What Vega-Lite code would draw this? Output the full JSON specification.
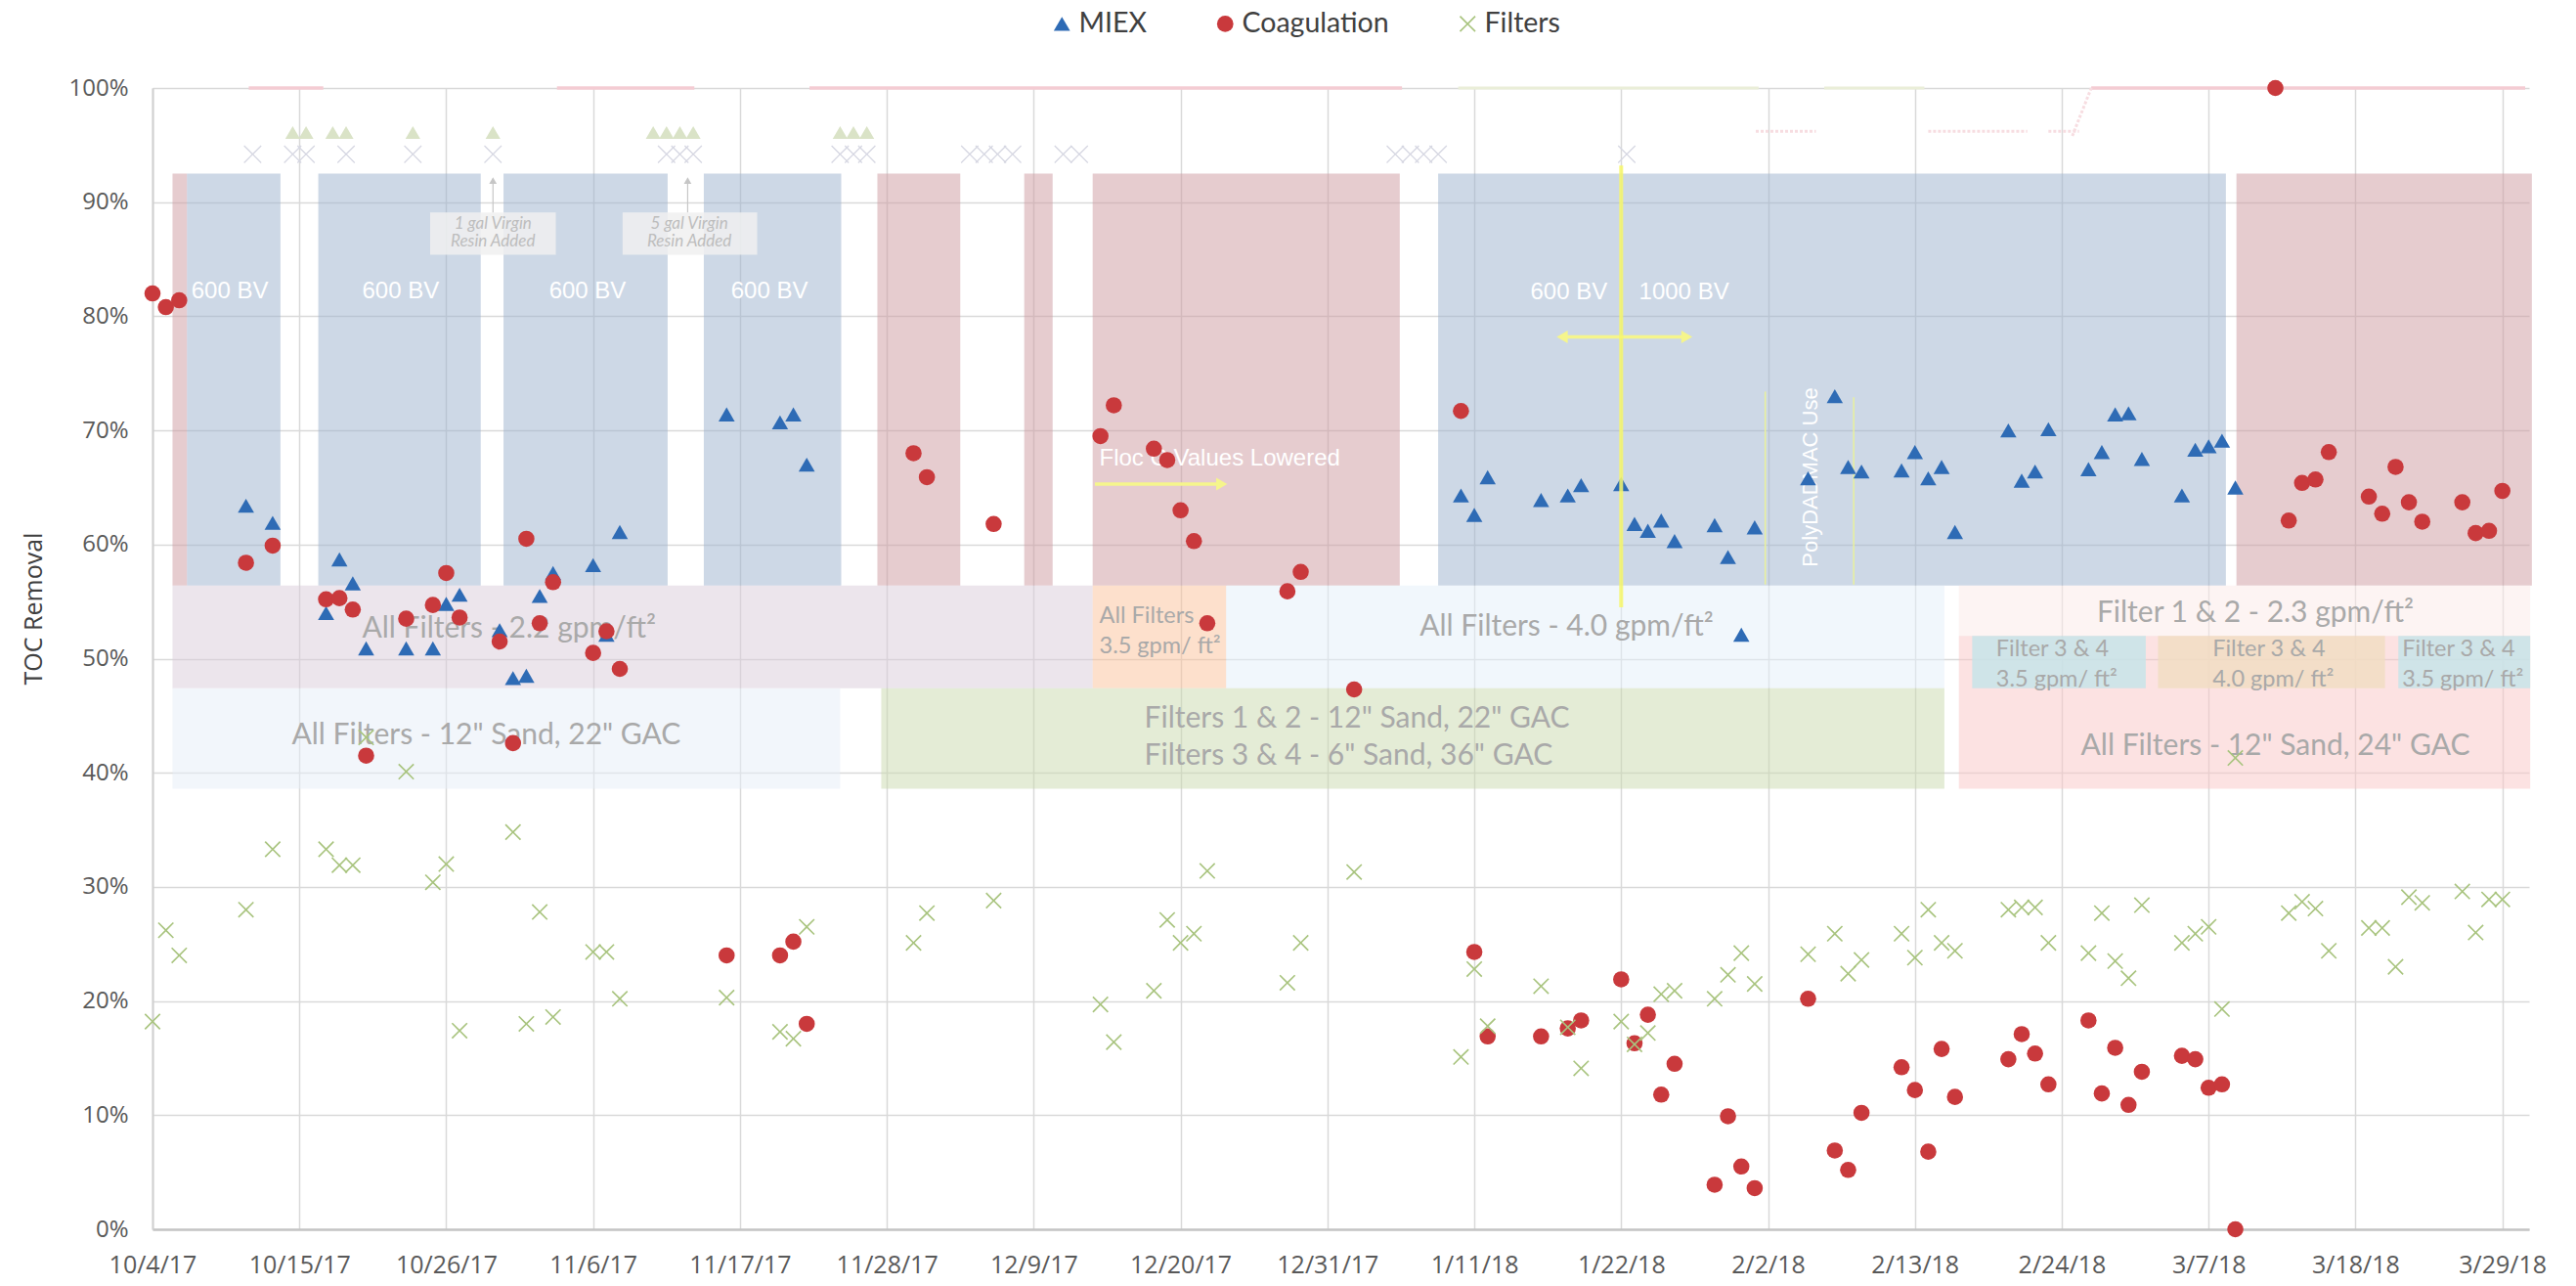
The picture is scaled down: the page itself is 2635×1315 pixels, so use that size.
{
"$schema": "https://vega.github.io/schema/vega-lite/v6.json",
"width": 2431, "height": 1167,
"autosize": {"type": "none"},
"padding": {"left": 156, "top": 90, "right": 48, "bottom": 58},
"background": "white",
"config": {
  "view": {"stroke": null},
  "font": "Lato",
  "legend": {"orient": "none", "legendX": 916, "legendY": -80, "direction": "horizontal", "labelFont": "Lato", "labelFontSize": 28.5, "labelColor": "#404040", "symbolSize": 280, "columnPadding": 66, "labelOffset": 3, "padding": 0, "symbolStrokeWidth": 0}
},
"datasets": {
  "bands": [
    {"d": "2017-10-05T12:00:00Z", "e": "2017-10-06T14:00:00Z", "v": 0.564, "w": 0.925, "k": "coag"},
    {"d": "2017-10-06T14:00:00Z", "e": "2017-10-13T14:00:00Z", "v": 0.564, "w": 0.925, "k": "miex"},
    {"d": "2017-10-16T10:00:00Z", "e": "2017-10-28T14:00:00Z", "v": 0.564, "w": 0.925, "k": "miex"},
    {"d": "2017-10-30T07:00:00Z", "e": "2017-11-11T14:00:00Z", "v": 0.564, "w": 0.925, "k": "miex"},
    {"d": "2017-11-14T07:00:00Z", "e": "2017-11-24T14:00:00Z", "v": 0.564, "w": 0.925, "k": "miex"},
    {"d": "2017-11-27T07:00:00Z", "e": "2017-12-03T12:00:00Z", "v": 0.564, "w": 0.925, "k": "coag"},
    {"d": "2017-12-08T07:00:00Z", "e": "2017-12-10T10:00:00Z", "v": 0.564, "w": 0.925, "k": "coag"},
    {"d": "2017-12-13T10:00:00Z", "e": "2018-01-05T10:00:00Z", "v": 0.564, "w": 0.925, "k": "coag"},
    {"d": "2018-01-08T07:00:00Z", "e": "2018-03-08T07:00:00Z", "v": 0.564, "w": 0.925, "k": "miex"},
    {"d": "2018-03-09T02:00:00Z", "e": "2018-03-31T05:00:00Z", "v": 0.564, "w": 0.925, "k": "coag"},
    {"d": "2017-10-05T12:00:00Z", "e": "2017-12-13T10:00:00Z", "v": 0.474, "w": 0.564, "k": "r22"},
    {"d": "2017-12-13T10:00:00Z", "e": "2017-12-23T10:00:00Z", "v": 0.474, "w": 0.564, "k": "r35"},
    {"d": "2017-12-23T10:00:00Z", "e": "2018-02-15T05:00:00Z", "v": 0.474, "w": 0.564, "k": "r40"},
    {"d": "2018-02-16T07:00:00Z", "e": "2018-03-31T02:00:00Z", "v": 0.520, "w": 0.564, "k": "r23"},
    {"d": "2017-10-05T12:00:00Z", "e": "2017-11-24T12:00:00Z", "v": 0.386, "w": 0.474, "k": "m1222"},
    {"d": "2017-11-27T14:00:00Z", "e": "2018-02-15T05:00:00Z", "v": 0.386, "w": 0.474, "k": "msplit"},
    {"d": "2018-02-16T07:00:00Z", "e": "2018-03-31T02:00:00Z", "v": 0.386, "w": 0.520, "k": "m1224"}
  ],
  "subbands": [
    {"d": "2018-02-17T07:00:00Z", "e": "2018-03-02T07:00:00Z", "v": 0.474, "w": 0.520, "k": "f35"},
    {"d": "2018-03-03T05:00:00Z", "e": "2018-03-20T05:00:00Z", "v": 0.474, "w": 0.520, "k": "f40"},
    {"d": "2018-03-21T05:00:00Z", "e": "2018-03-31T02:00:00Z", "v": 0.474, "w": 0.520, "k": "f35"}
  ],
  "boxes": [
    {"d": "2017-10-24T19:00:00Z", "e": "2017-11-03T05:00:00Z", "v": 0.854, "w": 0.891},
    {"d": "2017-11-08T05:00:00Z", "e": "2017-11-18T07:00:00Z", "v": 0.854, "w": 0.891}
  ],
  "ghostPink": [
    {"d": "2017-10-11T05:00:00Z", "e": "2017-10-16T19:00:00Z", "v": 1.0, "w": 1.0},
    {"d": "2017-11-03T07:00:00Z", "e": "2017-11-13T14:00:00Z", "v": 1.0, "w": 1.0},
    {"d": "2017-11-22T05:00:00Z", "e": "2018-01-05T14:00:00Z", "v": 1.0, "w": 1.0},
    {"d": "2018-02-26T05:00:00Z", "e": "2018-03-30T17:00:00Z", "v": 1.0, "w": 1.0}
  ],
  "ghostPinkLow": [
    {"d": "2018-02-01T02:00:00Z", "e": "2018-02-05T14:00:00Z", "v": 0.962, "w": 0.962},
    {"d": "2018-02-14T00:00:00Z", "e": "2018-02-21T10:00:00Z", "v": 0.962, "w": 0.962},
    {"d": "2018-02-23T00:00:00Z", "e": "2018-02-25T07:00:00Z", "v": 0.962, "w": 0.962},
    {"d": "2018-02-24T19:00:00Z", "e": "2018-02-26T05:00:00Z", "v": 0.958, "w": 1.0}
  ],
  "ghostOlive": [
    {"d": "2018-01-09T19:00:00Z", "e": "2018-02-01T07:00:00Z", "v": 1.0, "w": 1.0},
    {"d": "2018-02-06T05:00:00Z", "e": "2018-02-13T17:00:00Z", "v": 1.0, "w": 1.0}
  ],
  "ghostTri": [
    {"d": "2017-10-14T12:00:00Z", "v": 0.961}, {"d": "2017-10-15T12:00:00Z", "v": 0.961},
    {"d": "2017-10-17T12:00:00Z", "v": 0.961}, {"d": "2017-10-18T12:00:00Z", "v": 0.961},
    {"d": "2017-10-23T12:00:00Z", "v": 0.961}, {"d": "2017-10-29T12:00:00Z", "v": 0.961},
    {"d": "2017-11-10T12:00:00Z", "v": 0.961}, {"d": "2017-11-11T12:00:00Z", "v": 0.961},
    {"d": "2017-11-12T12:00:00Z", "v": 0.961}, {"d": "2017-11-13T12:00:00Z", "v": 0.961},
    {"d": "2017-11-24T12:00:00Z", "v": 0.961}, {"d": "2017-11-25T12:00:00Z", "v": 0.961},
    {"d": "2017-11-26T12:00:00Z", "v": 0.961}
  ],
  "ghostX": [
    {"d": "2017-10-11T12:00:00Z", "v": 0.942}, {"d": "2017-10-14T12:00:00Z", "v": 0.942},
    {"d": "2017-10-15T12:00:00Z", "v": 0.942}, {"d": "2017-10-18T12:00:00Z", "v": 0.942},
    {"d": "2017-10-23T12:00:00Z", "v": 0.942}, {"d": "2017-10-29T12:00:00Z", "v": 0.942},
    {"d": "2017-11-11T12:00:00Z", "v": 0.942}, {"d": "2017-11-12T12:00:00Z", "v": 0.942},
    {"d": "2017-11-13T12:00:00Z", "v": 0.942}, {"d": "2017-11-24T12:00:00Z", "v": 0.942},
    {"d": "2017-11-25T12:00:00Z", "v": 0.942}, {"d": "2017-11-26T12:00:00Z", "v": 0.942},
    {"d": "2017-12-04T05:00:00Z", "v": 0.942}, {"d": "2017-12-05T07:00:00Z", "v": 0.942},
    {"d": "2017-12-06T07:00:00Z", "v": 0.942}, {"d": "2017-12-07T10:00:00Z", "v": 0.942},
    {"d": "2017-12-11T05:00:00Z", "v": 0.942}, {"d": "2017-12-12T10:00:00Z", "v": 0.942},
    {"d": "2018-01-05T02:00:00Z", "v": 0.942}, {"d": "2018-01-06T05:00:00Z", "v": 0.942},
    {"d": "2018-01-07T05:00:00Z", "v": 0.942}, {"d": "2018-01-08T07:00:00Z", "v": 0.942},
    {"d": "2018-01-22T10:00:00Z", "v": 0.942}
  ],
  "bandText": [
    {"d": "2017-10-30T17:00:00Z", "v": 0.526, "t": "All Filters - 2.2 gpm/ft²"},
    {"d": "2017-10-29T00:00:00Z", "v": 0.433, "t": "All Filters -  12\" Sand, 22\" GAC"},
    {"d": "2018-01-17T22:00:00Z", "v": 0.528, "t": "All Filters - 4.0 gpm/ft²"},
    {"d": "2018-03-12T00:00:00Z", "v": 0.423, "t": "All Filters - 12\" Sand, 24\" GAC"},
    {"d": "2018-03-10T12:00:00Z", "v": 0.540, "t": "Filter 1 & 2 - 2.3 gpm/ft²"}
  ],
  "bandText2": [
    {"d": "2017-12-17T07:00:00Z", "v": 0.447, "t": "Filters 1 & 2 - 12\" Sand, 22\" GAC\nFilters 3 & 4 - 6\" Sand, 36\" GAC"}
  ],
  "smallText": [
    {"d": "2017-12-13T22:00:00Z", "v": 0.537, "t": "All Filters\n3.5 gpm/ ft²"},
    {"d": "2018-02-19T02:00:00Z", "v": 0.508, "t": "Filter 3 & 4\n3.5 gpm/ ft²"},
    {"d": "2018-03-07T07:00:00Z", "v": 0.508, "t": "Filter 3 & 4\n4.0 gpm/ ft²"},
    {"d": "2018-03-21T12:00:00Z", "v": 0.508, "t": "Filter 3 & 4\n3.5 gpm/ ft²"}
  ],
  "bvText": [
    {"d": "2017-10-09T19:00:00Z", "v": 0.822, "t": "600 BV"},
    {"d": "2017-10-22T14:00:00Z", "v": 0.822, "t": "600 BV"},
    {"d": "2017-11-05T14:00:00Z", "v": 0.822, "t": "600 BV"},
    {"d": "2017-11-19T05:00:00Z", "v": 0.822, "t": "600 BV"},
    {"d": "2018-01-18T02:00:00Z", "v": 0.821, "t": "600 BV"},
    {"d": "2018-01-26T17:00:00Z", "v": 0.821, "t": "1000 BV"}
  ],
  "flocText": [
    {"d": "2017-12-13T22:00:00Z", "v": 0.675, "t": "Floc C Values Lowered"}
  ],
  "polyText": [
    {"d": "2018-02-05T05:00:00Z", "v": 0.659, "t": "PolyDADMAC Use"}
  ],
  "noteText": [
    {"d": "2017-10-29T12:00:00Z", "v": 0.881, "t": "1 gal Virgin\nResin Added"},
    {"d": "2017-11-13T05:00:00Z", "v": 0.881, "t": "5 gal Virgin\nResin Added"}
  ],
  "yellowMain": [
    {"d": "2018-01-22T00:00:00Z", "v": 0.545, "w": 0.932}
  ],
  "yellowThin": [
    {"d": "2018-02-01T19:00:00Z", "v": 0.565, "w": 0.734},
    {"d": "2018-02-08T10:00:00Z", "v": 0.565, "w": 0.729}
  ],
  "yellowShaft": [
    {"d": "2018-01-17T14:00:00Z", "e": "2018-01-26T22:00:00Z", "v": 0.782},
    {"d": "2017-12-13T14:00:00Z", "e": "2017-12-23T00:00:00Z", "v": 0.653}
  ],
  "yellowLeft": [
    {"d": "2018-01-17T14:00:00Z", "v": 0.782}
  ],
  "yellowRight": [
    {"d": "2018-01-26T22:00:00Z", "v": 0.782},
    {"d": "2017-12-23T02:00:00Z", "v": 0.653}
  ],
  "grayShaft": [
    {"d": "2017-10-29T12:00:00Z", "v": 0.891, "w": 0.917},
    {"d": "2017-11-13T02:00:00Z", "v": 0.891, "w": 0.917}
  ],
  "grayHead": [
    {"d": "2017-10-29T12:00:00Z", "v": 0.919},
    {"d": "2017-11-13T02:00:00Z", "v": 0.919}
  ],
  "pts": [
    {"d": "2017-10-11", "v": 0.634, "s": "MIEX"},
    {"d": "2017-10-13", "v": 0.619, "s": "MIEX"},
    {"d": "2017-10-17", "v": 0.540, "s": "MIEX"},
    {"d": "2017-10-18", "v": 0.587, "s": "MIEX"},
    {"d": "2017-10-19", "v": 0.566, "s": "MIEX"},
    {"d": "2017-10-20", "v": 0.509, "s": "MIEX"},
    {"d": "2017-10-23", "v": 0.509, "s": "MIEX"},
    {"d": "2017-10-25", "v": 0.509, "s": "MIEX"},
    {"d": "2017-10-26", "v": 0.548, "s": "MIEX"},
    {"d": "2017-10-27", "v": 0.556, "s": "MIEX"},
    {"d": "2017-10-30", "v": 0.525, "s": "MIEX"},
    {"d": "2017-10-31", "v": 0.483, "s": "MIEX"},
    {"d": "2017-11-01", "v": 0.485, "s": "MIEX"},
    {"d": "2017-11-02", "v": 0.555, "s": "MIEX"},
    {"d": "2017-11-03", "v": 0.575, "s": "MIEX"},
    {"d": "2017-11-06", "v": 0.582, "s": "MIEX"},
    {"d": "2017-11-07", "v": 0.521, "s": "MIEX"},
    {"d": "2017-11-08", "v": 0.611, "s": "MIEX"},
    {"d": "2017-11-16", "v": 0.714, "s": "MIEX"},
    {"d": "2017-11-20", "v": 0.707, "s": "MIEX"},
    {"d": "2017-11-21", "v": 0.714, "s": "MIEX"},
    {"d": "2017-11-22", "v": 0.670, "s": "MIEX"},
    {"d": "2018-01-10", "v": 0.643, "s": "MIEX"},
    {"d": "2018-01-11", "v": 0.626, "s": "MIEX"},
    {"d": "2018-01-12", "v": 0.659, "s": "MIEX"},
    {"d": "2018-01-16", "v": 0.639, "s": "MIEX"},
    {"d": "2018-01-18", "v": 0.643, "s": "MIEX"},
    {"d": "2018-01-19", "v": 0.652, "s": "MIEX"},
    {"d": "2018-01-22", "v": 0.653, "s": "MIEX"},
    {"d": "2018-01-23", "v": 0.618, "s": "MIEX"},
    {"d": "2018-01-24", "v": 0.612, "s": "MIEX"},
    {"d": "2018-01-25", "v": 0.621, "s": "MIEX"},
    {"d": "2018-01-26", "v": 0.603, "s": "MIEX"},
    {"d": "2018-01-29", "v": 0.617, "s": "MIEX"},
    {"d": "2018-01-30", "v": 0.589, "s": "MIEX"},
    {"d": "2018-01-31", "v": 0.521, "s": "MIEX"},
    {"d": "2018-02-01", "v": 0.615, "s": "MIEX"},
    {"d": "2018-02-05", "v": 0.658, "s": "MIEX"},
    {"d": "2018-02-07", "v": 0.730, "s": "MIEX"},
    {"d": "2018-02-08", "v": 0.668, "s": "MIEX"},
    {"d": "2018-02-09", "v": 0.664, "s": "MIEX"},
    {"d": "2018-02-12", "v": 0.665, "s": "MIEX"},
    {"d": "2018-02-13", "v": 0.681, "s": "MIEX"},
    {"d": "2018-02-14", "v": 0.658, "s": "MIEX"},
    {"d": "2018-02-15", "v": 0.668, "s": "MIEX"},
    {"d": "2018-02-16", "v": 0.611, "s": "MIEX"},
    {"d": "2018-02-20", "v": 0.700, "s": "MIEX"},
    {"d": "2018-02-21", "v": 0.656, "s": "MIEX"},
    {"d": "2018-02-22", "v": 0.664, "s": "MIEX"},
    {"d": "2018-02-23", "v": 0.701, "s": "MIEX"},
    {"d": "2018-02-26", "v": 0.666, "s": "MIEX"},
    {"d": "2018-02-27", "v": 0.681, "s": "MIEX"},
    {"d": "2018-02-28", "v": 0.714, "s": "MIEX"},
    {"d": "2018-03-01", "v": 0.715, "s": "MIEX"},
    {"d": "2018-03-02", "v": 0.675, "s": "MIEX"},
    {"d": "2018-03-05", "v": 0.643, "s": "MIEX"},
    {"d": "2018-03-06", "v": 0.683, "s": "MIEX"},
    {"d": "2018-03-07", "v": 0.686, "s": "MIEX"},
    {"d": "2018-03-08", "v": 0.691, "s": "MIEX"},
    {"d": "2018-03-09", "v": 0.650, "s": "MIEX"},
    {"d": "2017-10-04", "v": 0.820, "s": "Coagulation"},
    {"d": "2017-10-05", "v": 0.808, "s": "Coagulation"},
    {"d": "2017-10-06", "v": 0.814, "s": "Coagulation"},
    {"d": "2017-10-11", "v": 0.584, "s": "Coagulation"},
    {"d": "2017-10-13", "v": 0.599, "s": "Coagulation"},
    {"d": "2017-10-17", "v": 0.552, "s": "Coagulation"},
    {"d": "2017-10-18", "v": 0.553, "s": "Coagulation"},
    {"d": "2017-10-19", "v": 0.543, "s": "Coagulation"},
    {"d": "2017-10-20", "v": 0.415, "s": "Coagulation"},
    {"d": "2017-10-23", "v": 0.535, "s": "Coagulation"},
    {"d": "2017-10-25", "v": 0.547, "s": "Coagulation"},
    {"d": "2017-10-26", "v": 0.575, "s": "Coagulation"},
    {"d": "2017-10-27", "v": 0.536, "s": "Coagulation"},
    {"d": "2017-10-30", "v": 0.515, "s": "Coagulation"},
    {"d": "2017-10-31", "v": 0.426, "s": "Coagulation"},
    {"d": "2017-11-01", "v": 0.605, "s": "Coagulation"},
    {"d": "2017-11-02", "v": 0.531, "s": "Coagulation"},
    {"d": "2017-11-03", "v": 0.567, "s": "Coagulation"},
    {"d": "2017-11-06", "v": 0.505, "s": "Coagulation"},
    {"d": "2017-11-07", "v": 0.524, "s": "Coagulation"},
    {"d": "2017-11-08", "v": 0.491, "s": "Coagulation"},
    {"d": "2017-11-16", "v": 0.240, "s": "Coagulation"},
    {"d": "2017-11-20", "v": 0.240, "s": "Coagulation"},
    {"d": "2017-11-21", "v": 0.252, "s": "Coagulation"},
    {"d": "2017-11-22", "v": 0.180, "s": "Coagulation"},
    {"d": "2017-11-30", "v": 0.680, "s": "Coagulation"},
    {"d": "2017-12-01", "v": 0.659, "s": "Coagulation"},
    {"d": "2017-12-06", "v": 0.618, "s": "Coagulation"},
    {"d": "2017-12-14", "v": 0.695, "s": "Coagulation"},
    {"d": "2017-12-15", "v": 0.722, "s": "Coagulation"},
    {"d": "2017-12-18", "v": 0.684, "s": "Coagulation"},
    {"d": "2017-12-19", "v": 0.674, "s": "Coagulation"},
    {"d": "2017-12-20", "v": 0.630, "s": "Coagulation"},
    {"d": "2017-12-21", "v": 0.603, "s": "Coagulation"},
    {"d": "2017-12-22", "v": 0.531, "s": "Coagulation"},
    {"d": "2017-12-28", "v": 0.559, "s": "Coagulation"},
    {"d": "2017-12-29", "v": 0.576, "s": "Coagulation"},
    {"d": "2018-01-02", "v": 0.473, "s": "Coagulation"},
    {"d": "2018-01-10", "v": 0.717, "s": "Coagulation"},
    {"d": "2018-01-11", "v": 0.243, "s": "Coagulation"},
    {"d": "2018-01-12", "v": 0.169, "s": "Coagulation"},
    {"d": "2018-01-16", "v": 0.169, "s": "Coagulation"},
    {"d": "2018-01-18", "v": 0.176, "s": "Coagulation"},
    {"d": "2018-01-19", "v": 0.183, "s": "Coagulation"},
    {"d": "2018-01-22", "v": 0.219, "s": "Coagulation"},
    {"d": "2018-01-23", "v": 0.163, "s": "Coagulation"},
    {"d": "2018-01-24", "v": 0.188, "s": "Coagulation"},
    {"d": "2018-01-25", "v": 0.118, "s": "Coagulation"},
    {"d": "2018-01-26", "v": 0.145, "s": "Coagulation"},
    {"d": "2018-01-29", "v": 0.039, "s": "Coagulation"},
    {"d": "2018-01-30", "v": 0.099, "s": "Coagulation"},
    {"d": "2018-01-31", "v": 0.055, "s": "Coagulation"},
    {"d": "2018-02-01", "v": 0.036, "s": "Coagulation"},
    {"d": "2018-02-05", "v": 0.202, "s": "Coagulation"},
    {"d": "2018-02-07", "v": 0.069, "s": "Coagulation"},
    {"d": "2018-02-08", "v": 0.052, "s": "Coagulation"},
    {"d": "2018-02-09", "v": 0.102, "s": "Coagulation"},
    {"d": "2018-02-12", "v": 0.142, "s": "Coagulation"},
    {"d": "2018-02-13", "v": 0.122, "s": "Coagulation"},
    {"d": "2018-02-14", "v": 0.068, "s": "Coagulation"},
    {"d": "2018-02-15", "v": 0.158, "s": "Coagulation"},
    {"d": "2018-02-16", "v": 0.116, "s": "Coagulation"},
    {"d": "2018-02-20", "v": 0.149, "s": "Coagulation"},
    {"d": "2018-02-21", "v": 0.171, "s": "Coagulation"},
    {"d": "2018-02-22", "v": 0.154, "s": "Coagulation"},
    {"d": "2018-02-23", "v": 0.127, "s": "Coagulation"},
    {"d": "2018-02-26", "v": 0.183, "s": "Coagulation"},
    {"d": "2018-02-27", "v": 0.119, "s": "Coagulation"},
    {"d": "2018-02-28", "v": 0.159, "s": "Coagulation"},
    {"d": "2018-03-01", "v": 0.109, "s": "Coagulation"},
    {"d": "2018-03-02", "v": 0.138, "s": "Coagulation"},
    {"d": "2018-03-05", "v": 0.152, "s": "Coagulation"},
    {"d": "2018-03-06", "v": 0.149, "s": "Coagulation"},
    {"d": "2018-03-07", "v": 0.124, "s": "Coagulation"},
    {"d": "2018-03-08", "v": 0.127, "s": "Coagulation"},
    {"d": "2018-03-09", "v": 0.000, "s": "Coagulation"},
    {"d": "2018-03-12", "v": 1.000, "s": "Coagulation"},
    {"d": "2018-03-13", "v": 0.621, "s": "Coagulation"},
    {"d": "2018-03-14", "v": 0.654, "s": "Coagulation"},
    {"d": "2018-03-15", "v": 0.657, "s": "Coagulation"},
    {"d": "2018-03-16", "v": 0.681, "s": "Coagulation"},
    {"d": "2018-03-19", "v": 0.642, "s": "Coagulation"},
    {"d": "2018-03-20", "v": 0.627, "s": "Coagulation"},
    {"d": "2018-03-21", "v": 0.668, "s": "Coagulation"},
    {"d": "2018-03-22", "v": 0.637, "s": "Coagulation"},
    {"d": "2018-03-23", "v": 0.620, "s": "Coagulation"},
    {"d": "2018-03-26", "v": 0.637, "s": "Coagulation"},
    {"d": "2018-03-27", "v": 0.610, "s": "Coagulation"},
    {"d": "2018-03-28", "v": 0.612, "s": "Coagulation"},
    {"d": "2018-03-29", "v": 0.647, "s": "Coagulation"},
    {"d": "2017-10-04", "v": 0.182, "s": "Filters"},
    {"d": "2017-10-05", "v": 0.262, "s": "Filters"},
    {"d": "2017-10-06", "v": 0.240, "s": "Filters"},
    {"d": "2017-10-11", "v": 0.280, "s": "Filters"},
    {"d": "2017-10-13", "v": 0.333, "s": "Filters"},
    {"d": "2017-10-17", "v": 0.333, "s": "Filters"},
    {"d": "2017-10-18", "v": 0.319, "s": "Filters"},
    {"d": "2017-10-19", "v": 0.319, "s": "Filters"},
    {"d": "2017-10-20", "v": 0.431, "s": "Filters"},
    {"d": "2017-10-23", "v": 0.401, "s": "Filters"},
    {"d": "2017-10-25", "v": 0.304, "s": "Filters"},
    {"d": "2017-10-26", "v": 0.320, "s": "Filters"},
    {"d": "2017-10-27", "v": 0.174, "s": "Filters"},
    {"d": "2017-10-31", "v": 0.348, "s": "Filters"},
    {"d": "2017-11-01", "v": 0.180, "s": "Filters"},
    {"d": "2017-11-02", "v": 0.278, "s": "Filters"},
    {"d": "2017-11-03", "v": 0.186, "s": "Filters"},
    {"d": "2017-11-06", "v": 0.243, "s": "Filters"},
    {"d": "2017-11-07", "v": 0.243, "s": "Filters"},
    {"d": "2017-11-08", "v": 0.202, "s": "Filters"},
    {"d": "2017-11-16", "v": 0.203, "s": "Filters"},
    {"d": "2017-11-20", "v": 0.173, "s": "Filters"},
    {"d": "2017-11-21", "v": 0.167, "s": "Filters"},
    {"d": "2017-11-22", "v": 0.265, "s": "Filters"},
    {"d": "2017-11-30", "v": 0.251, "s": "Filters"},
    {"d": "2017-12-01", "v": 0.277, "s": "Filters"},
    {"d": "2017-12-06", "v": 0.288, "s": "Filters"},
    {"d": "2017-12-14", "v": 0.197, "s": "Filters"},
    {"d": "2017-12-15", "v": 0.164, "s": "Filters"},
    {"d": "2017-12-18", "v": 0.209, "s": "Filters"},
    {"d": "2017-12-19", "v": 0.271, "s": "Filters"},
    {"d": "2017-12-20", "v": 0.251, "s": "Filters"},
    {"d": "2017-12-21", "v": 0.259, "s": "Filters"},
    {"d": "2017-12-22", "v": 0.314, "s": "Filters"},
    {"d": "2017-12-28", "v": 0.216, "s": "Filters"},
    {"d": "2017-12-29", "v": 0.251, "s": "Filters"},
    {"d": "2018-01-02", "v": 0.313, "s": "Filters"},
    {"d": "2018-01-10", "v": 0.151, "s": "Filters"},
    {"d": "2018-01-11", "v": 0.228, "s": "Filters"},
    {"d": "2018-01-12", "v": 0.178, "s": "Filters"},
    {"d": "2018-01-16", "v": 0.213, "s": "Filters"},
    {"d": "2018-01-18", "v": 0.177, "s": "Filters"},
    {"d": "2018-01-19", "v": 0.141, "s": "Filters"},
    {"d": "2018-01-22", "v": 0.182, "s": "Filters"},
    {"d": "2018-01-23", "v": 0.162, "s": "Filters"},
    {"d": "2018-01-24", "v": 0.172, "s": "Filters"},
    {"d": "2018-01-25", "v": 0.206, "s": "Filters"},
    {"d": "2018-01-26", "v": 0.209, "s": "Filters"},
    {"d": "2018-01-29", "v": 0.202, "s": "Filters"},
    {"d": "2018-01-30", "v": 0.223, "s": "Filters"},
    {"d": "2018-01-31", "v": 0.242, "s": "Filters"},
    {"d": "2018-02-01", "v": 0.215, "s": "Filters"},
    {"d": "2018-02-05", "v": 0.241, "s": "Filters"},
    {"d": "2018-02-07", "v": 0.259, "s": "Filters"},
    {"d": "2018-02-08", "v": 0.224, "s": "Filters"},
    {"d": "2018-02-09", "v": 0.236, "s": "Filters"},
    {"d": "2018-02-12", "v": 0.259, "s": "Filters"},
    {"d": "2018-02-13", "v": 0.238, "s": "Filters"},
    {"d": "2018-02-14", "v": 0.280, "s": "Filters"},
    {"d": "2018-02-15", "v": 0.251, "s": "Filters"},
    {"d": "2018-02-16", "v": 0.244, "s": "Filters"},
    {"d": "2018-02-20", "v": 0.280, "s": "Filters"},
    {"d": "2018-02-21", "v": 0.282, "s": "Filters"},
    {"d": "2018-02-22", "v": 0.282, "s": "Filters"},
    {"d": "2018-02-23", "v": 0.251, "s": "Filters"},
    {"d": "2018-02-26", "v": 0.242, "s": "Filters"},
    {"d": "2018-02-27", "v": 0.277, "s": "Filters"},
    {"d": "2018-02-28", "v": 0.235, "s": "Filters"},
    {"d": "2018-03-01", "v": 0.220, "s": "Filters"},
    {"d": "2018-03-02", "v": 0.284, "s": "Filters"},
    {"d": "2018-03-05", "v": 0.251, "s": "Filters"},
    {"d": "2018-03-06", "v": 0.259, "s": "Filters"},
    {"d": "2018-03-07", "v": 0.265, "s": "Filters"},
    {"d": "2018-03-08", "v": 0.193, "s": "Filters"},
    {"d": "2018-03-09", "v": 0.413, "s": "Filters"},
    {"d": "2018-03-13", "v": 0.277, "s": "Filters"},
    {"d": "2018-03-14", "v": 0.287, "s": "Filters"},
    {"d": "2018-03-15", "v": 0.281, "s": "Filters"},
    {"d": "2018-03-16", "v": 0.244, "s": "Filters"},
    {"d": "2018-03-19", "v": 0.264, "s": "Filters"},
    {"d": "2018-03-20", "v": 0.264, "s": "Filters"},
    {"d": "2018-03-21", "v": 0.230, "s": "Filters"},
    {"d": "2018-03-22", "v": 0.291, "s": "Filters"},
    {"d": "2018-03-23", "v": 0.286, "s": "Filters"},
    {"d": "2018-03-26", "v": 0.296, "s": "Filters"},
    {"d": "2018-03-27", "v": 0.260, "s": "Filters"},
    {"d": "2018-03-28", "v": 0.289, "s": "Filters"},
    {"d": "2018-03-29", "v": 0.289, "s": "Filters"}
  ]
},
"encoding": {
  "x": {"field": "d", "type": "temporal",
    "scale": {"type": "utc", "domain": [{"year": 2017, "month": 10, "date": 4, "utc": true}, {"year": 2018, "month": 3, "date": 31, "utc": true}], "nice": false},
    "axis": {
      "values": [
        {"year": 2017, "month": 10, "date": 4, "utc": true},
        {"year": 2017, "month": 10, "date": 15, "utc": true},
        {"year": 2017, "month": 10, "date": 26, "utc": true},
        {"year": 2017, "month": 11, "date": 6, "utc": true},
        {"year": 2017, "month": 11, "date": 17, "utc": true},
        {"year": 2017, "month": 11, "date": 28, "utc": true},
        {"year": 2017, "month": 12, "date": 9, "utc": true},
        {"year": 2017, "month": 12, "date": 20, "utc": true},
        {"year": 2017, "month": 12, "date": 31, "utc": true},
        {"year": 2018, "month": 1, "date": 11, "utc": true},
        {"year": 2018, "month": 1, "date": 22, "utc": true},
        {"year": 2018, "month": 2, "date": 2, "utc": true},
        {"year": 2018, "month": 2, "date": 13, "utc": true},
        {"year": 2018, "month": 2, "date": 24, "utc": true},
        {"year": 2018, "month": 3, "date": 7, "utc": true},
        {"year": 2018, "month": 3, "date": 18, "utc": true},
        {"year": 2018, "month": 3, "date": 29, "utc": true}
      ],
      "labelExpr": "utcFormat(datum.value, '%-m/%-d/%y')",
      "title": null, "grid": true, "gridColor": "#d9d9d9", "gridWidth": 1.5,
      "ticks": false, "labelPadding": 24, "labelFont": "Open Sans", "labelFontSize": 25,
      "labelColor": "#595959", "domainColor": "#c4c4c4", "domainWidth": 2.5,
      "labelFlush": false, "labelOverlap": false, "labelBound": false
    }
  },
  "y": {"field": "v", "type": "quantitative", "scale": {"domain": [0, 1], "nice": false},
    "axis": {
      "values": [0, 0.1, 0.2, 0.3, 0.4, 0.5, 0.6, 0.7, 0.8, 0.9, 1],
      "format": ".0%", "title": "TOC Removal",
      "titleFont": "Open Sans", "titleFontSize": 25, "titleFontWeight": "normal", "titleColor": "#404040",
      "titleX": -122, "titleY": 532, "titleAngle": 270, "titleAlign": "center", "titleBaseline": "middle",
      "grid": true, "gridColor": "#d9d9d9", "gridWidth": 1.5, "ticks": false, "labelPadding": 25,
      "labelFont": "Open Sans", "labelFontSize": 24, "labelColor": "#595959",
      "domainColor": "#d0d0d0", "domainWidth": 2
    }
  }
},
"layer": [
  {
    "data": {"name": "bands"},
    "mark": {"type": "rect", "opacity": 0.5},
    "encoding": {
      "x2": {"field": "e"},
      "y2": {"field": "w"},
      "color": {"field": "k", "type": "nominal", "legend": null,
        "scale": {"domain": ["miex", "coag", "r22", "r35", "r40", "r23", "m1222", "msplit", "m1224"],
                  "range": ["#9bb1cd", "#cd999f", "#d9cbd9", "#fbc199", "#e3eff9", "#fbe9e7", "#e5edf7", "#c9d9ad", "#f9c5c5"]}}
    }
  },
  {
    "data": {"name": "subbands"},
    "mark": {"type": "rect", "opacity": 0.85},
    "encoding": {
      "x2": {"field": "e"},
      "y2": {"field": "w"},
      "color": {"field": "k", "type": "nominal", "legend": null,
        "scale": {"domain": ["f35", "f40"], "range": ["#c7e4e9", "#f1ddc3"]}}
    }
  },
  {
    "data": {"name": "boxes"},
    "mark": {"type": "rect", "color": "#f0f0f0", "opacity": 0.85},
    "encoding": {"x2": {"field": "e"}, "y2": {"field": "w"}}
  },
  {
    "data": {"name": "ghostPink"},
    "mark": {"type": "rule", "color": "#f4ccd3", "strokeWidth": 3.5},
    "encoding": {"x2": {"field": "e"}, "y2": {"field": "w"}}
  },
  {
    "data": {"name": "ghostPinkLow"},
    "mark": {"type": "rule", "color": "#f7dde1", "strokeWidth": 3, "strokeDash": [3, 2]},
    "encoding": {"x2": {"field": "e"}, "y2": {"field": "w"}}
  },
  {
    "data": {"name": "ghostOlive"},
    "mark": {"type": "rule", "color": "#eaeed8", "strokeWidth": 3},
    "encoding": {"x2": {"field": "e"}, "y2": {"field": "w"}}
  },
  {
    "data": {"name": "ghostTri"},
    "mark": {"type": "point", "shape": "triangle-up", "filled": true, "color": "#dae3c7", "opacity": 1, "size": 230},
    "encoding": {}
  },
  {
    "data": {"name": "ghostX"},
    "mark": {"type": "point", "shape": "M-1,-0.9L-0.9,-1L0,-0.1L0.9,-1L1,-0.9L0.1,0L1,0.9L0.9,1L0,0.1L-0.9,1L-1,0.9L-0.1,0Z", "filled": true, "color": "#d6d7e2", "opacity": 1, "size": 340},
    "encoding": {}
  },
  {
    "data": {"name": "bandText"},
    "mark": {"type": "text", "font": "Lato", "fontSize": 30, "color": "#a9a9a9", "align": "center", "baseline": "middle"},
    "encoding": {"text": {"field": "t"}}
  },
  {
    "data": {"name": "bandText2"},
    "mark": {"type": "text", "font": "Lato", "fontSize": 30, "color": "#a9a9a9", "align": "left", "baseline": "middle", "lineBreak": "\n", "lineHeight": 38},
    "encoding": {"text": {"field": "t"}}
  },
  {
    "data": {"name": "smallText"},
    "mark": {"type": "text", "font": "Lato", "fontSize": 23.5, "color": "#a9a9a9", "align": "left", "baseline": "middle", "lineBreak": "\n", "lineHeight": 31},
    "encoding": {"text": {"field": "t"}}
  },
  {
    "data": {"name": "bvText"},
    "mark": {"type": "text", "font": "Liberation Sans", "fontSize": 24, "color": "#ffffff", "align": "center", "baseline": "middle"},
    "encoding": {"text": {"field": "t"}}
  },
  {
    "data": {"name": "flocText"},
    "mark": {"type": "text", "font": "Liberation Sans", "fontSize": 24, "color": "#ffffff", "align": "left", "baseline": "middle"},
    "encoding": {"text": {"field": "t"}}
  },
  {
    "data": {"name": "polyText"},
    "mark": {"type": "text", "font": "Liberation Sans", "fontSize": 22, "color": "#ffffff", "align": "center", "baseline": "middle", "angle": 270},
    "encoding": {"text": {"field": "t"}}
  },
  {
    "data": {"name": "noteText"},
    "mark": {"type": "text", "font": "Lato", "fontSize": 17, "fontStyle": "italic", "color": "#bdbdbd", "align": "center", "baseline": "middle", "lineBreak": "\n", "lineHeight": 18},
    "encoding": {"text": {"field": "t"}}
  },
  {
    "data": {"name": "yellowThin"},
    "mark": {"type": "rule", "color": "#e9f09c", "strokeWidth": 1.5},
    "encoding": {"y2": {"field": "w"}}
  },
  {
    "data": {"name": "yellowShaft"},
    "mark": {"type": "rule", "color": "#f5f58c", "strokeWidth": 3.5},
    "encoding": {"x2": {"field": "e"}}
  },
  {
    "data": {"name": "yellowLeft"},
    "mark": {"type": "point", "shape": "triangle-left", "filled": true, "color": "#f5f58c", "opacity": 1, "size": 170},
    "encoding": {}
  },
  {
    "data": {"name": "yellowRight"},
    "mark": {"type": "point", "shape": "triangle-right", "filled": true, "color": "#f5f58c", "opacity": 1, "size": 170},
    "encoding": {}
  },
  {
    "data": {"name": "grayShaft"},
    "mark": {"type": "rule", "color": "#c6c6c6", "strokeWidth": 1.2},
    "encoding": {"y2": {"field": "w"}}
  },
  {
    "data": {"name": "grayHead"},
    "mark": {"type": "point", "shape": "triangle-up", "filled": true, "color": "#c6c6c6", "opacity": 1, "size": 60},
    "encoding": {}
  },
  {
    "data": {"name": "pts"},
    "mark": {"type": "point", "filled": true, "opacity": 1, "size": 275, "strokeWidth": 0},
    "encoding": {
      "color": {"field": "s", "type": "nominal", "legend": {"title": null},
        "scale": {"domain": ["MIEX", "Coagulation", "Filters"], "range": ["#2e6bb5", "#c9393c", "#a9c47f"]}},
      "shape": {"field": "s", "type": "nominal", "legend": {"title": null},
        "scale": {"domain": ["MIEX", "Coagulation", "Filters"], "range": ["triangle-up", "circle", "M-1,-0.86L-0.86,-1L0,-0.14L0.86,-1L1,-0.86L0.14,0L1,0.86L0.86,1L0,0.14L-0.86,1L-1,0.86L-0.14,0Z"]}}
    }
  },
  {
    "data": {"name": "yellowMain"},
    "mark": {"type": "rule", "color": "#f7f76a", "strokeWidth": 4, "opacity": 0.85},
    "encoding": {"y2": {"field": "w"}}
  }
],
"resolve": {"scale": {"color": "independent", "shape": "independent"}}
}
